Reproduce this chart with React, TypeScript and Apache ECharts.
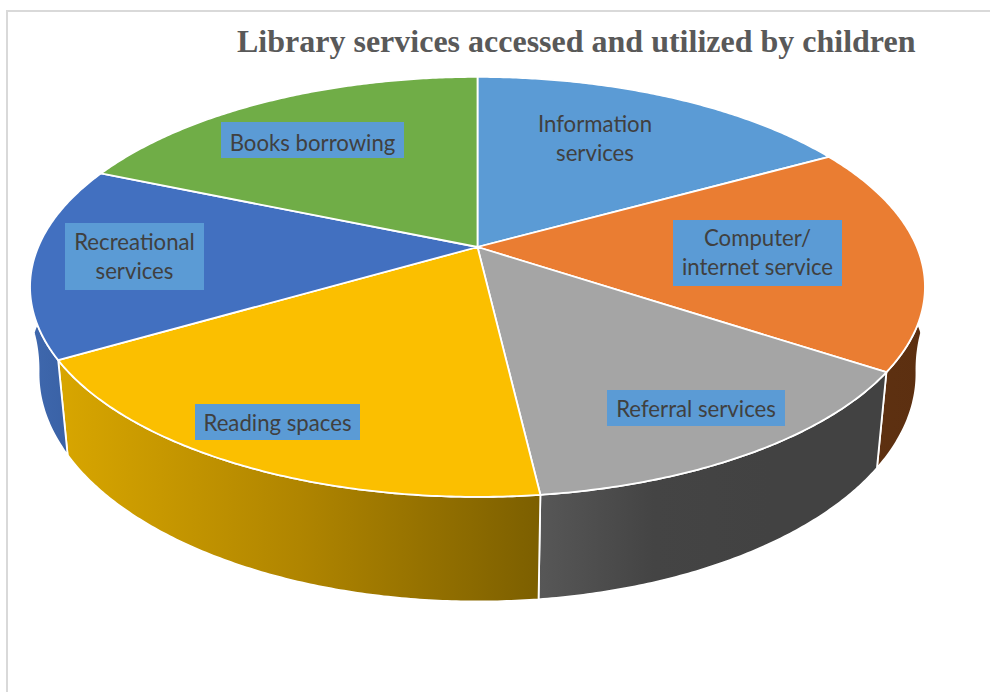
import React, { useEffect, useRef } from "react";
import * as echarts from "echarts";

const titleText = "Library services accessed and utilized by children";
const categories = [
  "Information services",
  "Computer/ internet service",
  "Referral services",
  "Reading spaces",
  "Recreational services",
  "Books borrowing",
];
const shares = [16.9, 17.4, 13.8, 18.4, 14.8, 18.6];

const faceColors = ["#5b9bd5", "#ea7d32", "#a5a5a5", "#fbbf00", "#4270c0", "#70ad47"];
const sideStops: string[][] = [
  ["#3a6288", "#3a6288"],
  ["#5f3212", "#5c2f10"],
  ["#575757", "#444444", "#424242", "#424242"],
  ["#d8a600", "#b08500", "#7c5f00"],
  ["#3f68ae", "#3a62a6", "#2f5597"],
  ["#43692b", "#43692b"],
];
const labelLines = [
  ["Information", "services"],
  ["Computer/", "internet service"],
  ["Referral services"],
  ["Reading spaces"],
  ["Recreational", "services"],
  ["Books borrowing"],
];
// label boxes: left, top, width, height, text offset
const labelBoxes = [
  [526, 106, 138, 66, -1],
  [673, 220, 169, 66, -1],
  [607, 390, 178, 36, 0],
  [195, 404, 165, 36, 0],
  [65, 223, 139, 67, -1],
  [221, 122, 183, 36, 2],
];

// Perspective projections of the pie's top disc and of its lower rim
const CX = 477.5;
const topDisc = { cy: 247, p: 0.19, a: 202.4, b: 439.3, bulge: 0, bulgeFrom: 0 };
const lowerRim = { cy: 332.5, p: 0.18, a: 220.6, b: 431.8, bulge: 396, bulgeFrom: -0.174 };
const BULGE_CAP = 0.174;

const total = shares.reduce((a, b) => a + b, 0);
const startAngles: number[] = [];
shares.reduce((acc, v) => {
  startAngles.push((acc / total) * 360);
  return acc + v;
}, 0);

function project(d: typeof topDisc, deg: number): [number, number] {
  const r = (deg * Math.PI) / 180;
  const u = Math.sin(r);
  const v = Math.cos(r);
  const k = 1 + d.p * v;
  const over = Math.min(BULGE_CAP, Math.max(0, v - d.bulgeFrom));
  const extra = d.bulge * over * over * Math.sign(u);
  return [CX + (d.b * u) / k + extra, d.cy - (d.a * v) / k];
}
const rimTop = (deg: number) => project(topDisc, deg);
const rimBottom = (deg: number) => project(lowerRim, deg);
function arcPoints(from: number, to: number, fn: (d: number) => [number, number]) {
  const pts: [number, number][] = [];
  const n = Math.max(2, Math.ceil((to - from) * 2));
  for (let i = 0; i <= n; i++) pts.push(fn(from + ((to - from) * i) / n));
  return pts;
}
function sliceRange(i: number): [number, number] {
  return [startAngles[i], startAngles[i] + (shares[i] / total) * 360];
}

const FRAME = "#d9d9d9";

export default function App() {
  const ref = useRef<HTMLDivElement>(null);
  useEffect(() => {
    const chart = echarts.init(ref.current!, null, { renderer: "svg" });
    const data = shares.map((v, i) => ({ name: categories[i], value: v }));
    chart.setOption({
      animation: false,
      backgroundColor: "#ffffff",
      title: {
        text: titleText,
        left: 232,
        top: 20,
        textStyle: {
          fontFamily: "Liberation Serif",
          fontWeight: "bold",
          fontSize: 32,
          color: "#595959",
        },
      },
      graphic: [
        {
          type: "rect",
          silent: true,
          z: 0,
          shape: { x: 7, y: 11, width: 1100, height: 800 },
          style: { fill: "none", stroke: FRAME, lineWidth: 2 },
        },
      ],
      series: [
        {
          type: "custom",
          coordinateSystem: "none",
          z: 1,
          data,
          renderItem: (params: any) => {
            const i = params.dataIndex;
            const [a, b] = sliceRange(i);
            const top = arcPoints(a, b, rimTop);
            const bot = arcPoints(a, b, rimBottom).reverse();
            const stops = sideStops[i];
            return {
              type: "polygon",
              shape: { points: [...top, ...bot] },
              style: {
                fill: new echarts.graphic.LinearGradient(
                  0,
                  0,
                  1,
                  0,
                  stops.map((color, k) => ({ offset: k / (stops.length - 1), color }))
                ),
                stroke: "#ffffff",
                lineWidth: 1.8,
                lineJoin: "round",
              },
            };
          },
        },
        {
          type: "custom",
          coordinateSystem: "none",
          z: 2,
          data,
          renderItem: (params: any) => {
            const i = params.dataIndex;
            const [a, b] = sliceRange(i);
            return {
              type: "polygon",
              shape: { points: [[CX, topDisc.cy], ...arcPoints(a, b, rimTop)] },
              style: {
                fill: faceColors[i],
                stroke: "#ffffff",
                lineWidth: 1.8,
                lineJoin: "round",
              },
            };
          },
        },
        {
          type: "custom",
          coordinateSystem: "none",
          z: 3,
          data,
          renderItem: (params: any) => {
            const i = params.dataIndex;
            const [x, y, w, h, dy] = labelBoxes[i];
            return {
              type: "group",
              children: [
                {
                  type: "rect",
                  shape: { x, y, width: w, height: h },
                  style: { fill: "#5b9bd5" },
                },
                {
                  type: "text",
                  style: {
                    x: x + w / 2,
                    y: y + h / 2 + dy,
                    text: labelLines[i].join("\n"),
                    align: "center",
                    verticalAlign: "middle",
                    lineHeight: 29,
                    fontFamily: "Lato",
                    fontSize: 22.2,
                    fill: "#404040",
                  },
                },
              ],
            };
          },
        },
      ],
    });
    return () => chart.dispose();
  }, []);
  return (
    <div
      ref={ref}
      style={{ position: "fixed", left: 0, top: 0, width: 990, height: 692, overflow: "hidden" }}
    />
  );
}
